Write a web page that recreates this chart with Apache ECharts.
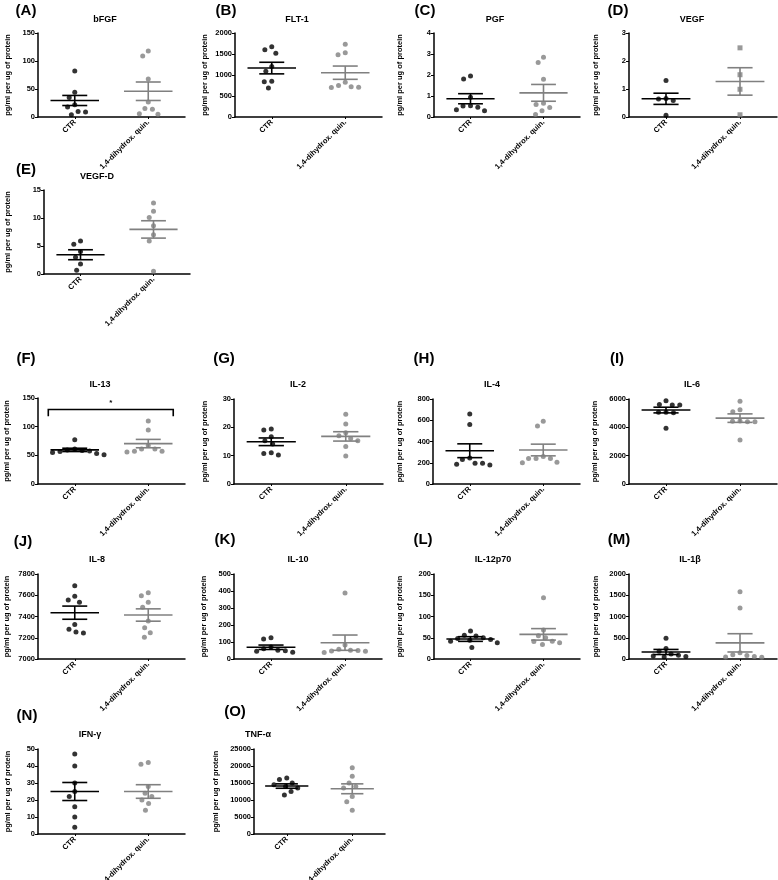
<!DOCTYPE html>
<html>
<head>
<meta charset="utf-8">
<title>Cytokine panels</title>
<script src="https://cdn.jsdelivr.net/npm/echarts@6/dist/echarts.min.js"></script>
<style>
html, body { margin: 0; padding: 0; background: #fff; }
#chart { width: 778px; height: 880px; }
</style>
</head>
<body>
<div id="chart"></div>
<script>
const groups = ['CTR', '1,4-dihydrox. quin.'];
const letters = ['(A)', '(B)', '(C)', '(D)', '(E)', '(F)', '(G)', '(H)', '(I)', '(J)', '(K)', '(L)', '(M)', '(N)', '(O)'];
const names = ['bFGF', 'FLT-1', 'PGF', 'VEGF', 'VEGF-D', 'IL-13', 'IL-2', 'IL-4', 'IL-6', 'IL-8', 'IL-10', 'IL-12p70', 'IL-1β', 'IFN-γ', 'TNF-α'];
const yName = 'pg/ml per ug of protein';

const yMin = [0, 0, 0, 0, 0, 0, 0, 0, 0, 7000, 0, 0, 0, 0, 0];
const yMax = [150, 2000, 4, 3, 15, 150, 30, 800, 6000, 7800, 500, 200, 2000, 50, 25000];
const yStep = [50, 500, 1, 1, 5, 50, 10, 200, 2000, 200, 100, 50, 500, 10, 5000];

const ctrValues = [
  [82, 44, 35, 22, 18, 10, 9, 4],
  [1670, 1600, 1520, 1200, 1090, 850, 840, 690],
  [1.95, 1.81, 0.94, 0.54, 0.46, 0.52, 0.30, 0.35],
  [1.3, 0.66, 0.59, 0.64, 0.06],
  [5.9, 5.3, 4.0, 3.0, 1.8, 0.65],
  [77, 61, 59.5, 58.5, 57.5, 56.5, 55, 53, 51],
  [19.1, 19.4, 16.7, 15.3, 14.1, 10.2, 11, 10.8],
  [660, 560, 245, 230, 185, 195, 195, 180],
  [5870, 5580, 5620, 5580, 5060, 5030, 5060, 3930],
  [7690, 7590, 7555, 7535, 7325, 7280, 7245, 7255],
  [125, 118, 70, 60, 52, 48, 45, 40],
  [66, 56, 54, 50, 48, 46, 44, 42, 38, 27],
  [490, 250, 180, 120, 90, 70, 60, 50],
  [47, 40, 30, 25, 22, 16, 10, 4],
  [16500, 16000, 15000, 14500, 14000, 13500, 12500, 11500]
];
const quinValues = [
  [118, 109, 68, 27, 15, 14, 6, 5],
  [1730, 1530, 1480, 830, 750, 700, 710, 720],
  [2.85, 2.6, 1.8, 0.65, 0.6, 0.45, 0.3, 0.12],
  [2.47, 1.51, 0.99, 0.08],
  [12.7, 11.2, 10.1, 8.6, 7.0, 5.9, 0.47],
  [110, 94, 67, 61, 61, 57, 57, 56],
  [24.6, 21.2, 18.1, 17, 16.1, 15.3, 13.2, 9.9],
  [590, 545, 260, 240, 240, 240, 205, 200],
  [5850, 5250, 5100, 4430, 4400, 4400, 4450, 3100],
  [7596, 7624, 7533, 7486, 7357, 7295, 7248, 7204],
  [388, 82, 57, 52, 50, 47, 45, 38],
  [144, 68, 55, 50, 42, 41, 38, 34],
  [1580, 1200, 150, 100, 80, 60, 50, 40],
  [42, 41, 28, 24, 22, 20, 18, 14],
  [19500, 17000, 15000, 14000, 13500, 11000, 9500, 7000]
];
const ctrMean = [29.5, 1165, 0.87, 0.65, 3.44, 59.5, 14.9, 313, 5220, 7436, 69, 47, 165, 25, 14100];
const ctrSem = [9, 138, 0.24, 0.2, 0.89, 2.9, 1.35, 65, 200, 62, 13, 5.5, 60, 5.3, 650];
const quinMean = [46, 1055, 1.15, 1.27, 7.96, 70.5, 16.8, 320, 4650, 7414, 96, 58, 380, 25, 13300];
const quinSem = [16.5, 158, 0.4, 0.49, 1.55, 7.3, 1.65, 55, 300, 58, 45, 13.5, 215, 4, 1450];

// significance bracket (IL-13)
const sigPanel = 5;
const sigLevel = 130;
const sigDrop = 118;
const sigText = '*';

// layout: [axis x, right end, top, bottom]
const boxes = [
  [38, 185, 33, 117], [235, 382, 33, 117], [434, 580, 33, 117], [629, 777, 33, 117],
  [44, 190, 190, 274],
  [38, 185, 398, 484], [234, 383, 399, 484], [433, 580, 399, 484], [629, 777, 399, 484],
  [38, 185, 574, 659], [234, 382, 574, 659], [434, 580, 574, 659], [629, 777, 574, 659],
  [38, 185, 749, 834], [254, 385, 749, 834]
];
const letterPos = [[26, 11], [226, 11], [425, 11], [618, 11], [26, 170],
  [26, 359], [224, 359], [424, 359], [617, 359],
  [23, 542], [225, 540], [423, 540], [619, 540], [27, 716], [235, 712]];
const titlePos = [[105, 20], [297, 20], [495, 20], [692, 20], [97, 177],
  [100, 385], [298, 385], [492, 385], [692, 385],
  [97, 560], [298, 560], [493, 560], [690, 560], [90, 735], [258, 735]];
const nameX = [8, 205, 400, 596, 8, 7, 205, 400, 595, 7, 204, 400, 596, 8, 216];

const FONT = '"Liberation Sans", Arial, sans-serif';
const GREY = '#808080';

// spread points sideways so they do not overlap (simple beeswarm)
function swarm(values, pxPerUnit, d) {
  const order = values.map((v, i) => i).sort((a, b) => values[b] - values[a]);
  const placed = [];
  const offs = new Array(values.length).fill(0);
  order.forEach(i => {
    const y = values[i] * pxPerUnit;
    const blocked = [];
    placed.forEach(p => {
      const dy = Math.abs(p.y - y);
      if (dy < d) {
        const w = Math.sqrt(d * d - dy * dy);
        blocked.push([p.x - w, p.x + w]);
      }
    });
    const cands = [0];
    blocked.forEach(b => cands.push(b[0], b[1]));
    cands.sort((a, b) => Math.abs(a) - Math.abs(b));
    const x = cands.find(c => blocked.every(b => c <= b[0] + 1e-6 || c >= b[1] - 1e-6));
    offs[i] = x;
    placed.push({ x: x, y: y });
  });
  return offs;
}

function meanSem(color) {
  return function (params, api) {
    const cat = api.value(0), m = api.value(1), s = api.value(2);
    const band = api.size([1, 0])[0];
    const c = api.coord([cat, m]);
    const hi = api.coord([cat, m + s]);
    const lo = api.coord([cat, m - s]);
    const half = band * 0.33, cap = band * 0.17;
    const st = { stroke: color, lineWidth: 1.6 };
    return {
      type: 'group',
      children: [
        { type: 'line', shape: { x1: c[0] - half, y1: c[1], x2: c[0] + half, y2: c[1] }, style: st },
        { type: 'line', shape: { x1: c[0], y1: hi[1], x2: c[0], y2: lo[1] }, style: st },
        { type: 'line', shape: { x1: c[0] - cap, y1: hi[1], x2: c[0] + cap, y2: hi[1] }, style: st },
        { type: 'line', shape: { x1: c[0] - cap, y1: lo[1], x2: c[0] + cap, y2: lo[1] }, style: st }
      ]
    };
  };
}

function bracket(params, api) {
  const band = api.size([1, 0])[0];
  const a = api.coord([0, api.value(1)]);
  const b = api.coord([1, api.value(1)]);
  const lowY = api.coord([0, api.value(2)])[1];
  const x1 = a[0] - band * 0.36, x2 = b[0] + band * 0.34;
  const st = { stroke: '#000', lineWidth: 1.6, fill: null };
  const star = api.coord([0, api.value(1) + 11]);
  return {
    type: 'group',
    children: [
      { type: 'polyline', shape: { points: [[x1, lowY], [x1, a[1]], [x2, a[1]], [x2, lowY]] }, style: st },
      { type: 'text', style: { text: sigText, x: (x1 + x2) / 2, y: star[1], textAlign: 'center', textVerticalAlign: 'middle', font: 'bold 8px ' + FONT, fill: '#000' } }
    ]
  };
}

const grid = [], xAxis = [], yAxis = [], series = [], graphic = [];

boxes.forEach((bx, k) => {
  const [ax, right, top, bottom] = bx;
  grid.push({ left: ax, top: top, width: right - ax, height: bottom - top, outerBoundsMode: 'none', containLabel: false });
  xAxis.push({
    type: 'category', gridIndex: k, data: groups,
    axisLine: { show: true, lineStyle: { color: '#000', width: 1.5 } },
    axisTick: { show: true, alignWithLabel: true, length: 2, lineStyle: { color: '#000', width: 1 } },
    axisLabel: { interval: 0, rotate: 45, margin: 4, color: '#000', fontSize: 7.5, fontWeight: 'bold', fontFamily: FONT },
    splitLine: { show: false }
  });
  yAxis.push({
    type: 'value', gridIndex: k, min: yMin[k], max: yMax[k], interval: yStep[k],
    name: yName, nameLocation: 'middle', nameRotate: 90, nameGap: ax - nameX[k] - 4,
    nameTextStyle: { color: '#000', fontSize: 7.5, fontWeight: 'bold', fontFamily: FONT },
    axisLine: { show: true, lineStyle: { color: '#000', width: 1.5 } },
    axisTick: { show: true, length: 3, lineStyle: { color: '#000', width: 1 } },
    axisLabel: { margin: 3, color: '#000', fontSize: 7.5, fontWeight: 'bold', fontFamily: FONT, formatter: v => String(v) },
    splitLine: { show: false }
  });

  const pxPerUnit = (bottom - top) / (yMax[k] - yMin[k]);
  const ctrOff = swarm(ctrValues[k], pxPerUnit, 7.5);
  const quinOff = swarm(quinValues[k], pxPerUnit, 7.5);

  series.push({
    type: 'scatter', xAxisIndex: k, yAxisIndex: k, symbol: 'circle', symbolSize: 5,
    itemStyle: { color: '#000' }, silent: true, z: 2,
    data: ctrValues[k].map((v, i) => ({ value: [0, v], symbolOffset: [ctrOff[i], 0] }))
  });
  series.push({
    type: 'scatter', xAxisIndex: k, yAxisIndex: k, symbol: k === 3 ? 'rect' : 'circle', symbolSize: 5,
    itemStyle: { color: GREY }, silent: true, z: 2,
    data: quinValues[k].map((v, i) => ({ value: [1, v], symbolOffset: [quinOff[i], 0] }))
  });
  series.push({
    type: 'custom', xAxisIndex: k, yAxisIndex: k, renderItem: meanSem('#000'), silent: true, z: 3,
    data: [[0, ctrMean[k], ctrSem[k]]]
  });
  series.push({
    type: 'custom', xAxisIndex: k, yAxisIndex: k, renderItem: meanSem(GREY), silent: true, z: 3,
    data: [[1, quinMean[k], quinSem[k]]]
  });
  if (k === sigPanel) {
    series.push({
      type: 'custom', xAxisIndex: k, yAxisIndex: k, renderItem: bracket, silent: true, z: 3,
      data: [[0, sigLevel, sigDrop]]
    });
  }

  graphic.push({
    type: 'text', x: letterPos[k][0], y: letterPos[k][1],
    style: { text: letters[k], font: 'bold 15px ' + FONT, fill: '#000', textAlign: 'center', textVerticalAlign: 'middle' }
  });
  graphic.push({
    type: 'text', x: titlePos[k][0], y: titlePos[k][1],
    style: { text: names[k], font: 'bold 9px ' + FONT, fill: '#000', textAlign: 'center', textVerticalAlign: 'middle' }
  });
});

const chart = echarts.init(document.getElementById('chart'));
chart.setOption({
  backgroundColor: '#fff',
  animation: false,
  grid: grid,
  xAxis: xAxis,
  yAxis: yAxis,
  series: series,
  graphic: graphic
});
window.addEventListener('resize', () => chart.resize());
</script>
</body>
</html>
